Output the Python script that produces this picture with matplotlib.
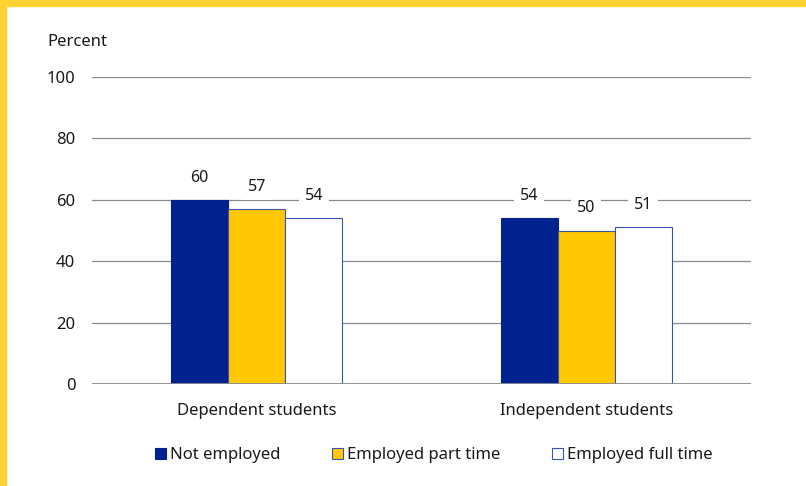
import numpy as np
import matplotlib
matplotlib.use("Agg")
import matplotlib.pyplot as plt
from matplotlib.patches import Rectangle

plt.rcParams["font.family"] = ["Noto Sans", "DejaVu Sans"]

# data
groups = ["Dependent students", "Independent students"]
series = ["Not employed", "Employed part time", "Employed full time"]
not_employed = [60, 54]
part_time = [57, 50]
full_time = [54, 51]
yticks = [0, 20, 40, 60, 80, 100]

NAVY = "#00228f"
GOLD = "#ffc800"
EDGE = "#3a52b0"
TXT = "#1a1a1a"
BORDER = "#ffd234"

fig = plt.figure(figsize=(8.06, 4.86), dpi=100)
W, H = 806, 486

# yellow frame on top and left
fig.patches.append(Rectangle((0, 1 - 6 / H), 1, 6 / H, transform=fig.transFigure,
                             color=BORDER, zorder=0))
fig.patches.append(Rectangle((0, 0), 6 / W, 1, transform=fig.transFigure,
                             color=BORDER, zorder=0))

ax = fig.add_axes([92 / W, 1 - 384 / H, (751 - 92) / W, (384 - 77) / H])

x = np.arange(len(groups))
bw = 0.173
vals = [not_employed, part_time, full_time]
faces = [NAVY, GOLD, "white"]
edges = [NAVY, EDGE, EDGE]
for i, (v, fc, ec) in enumerate(zip(vals, faces, edges)):
    pos = x + (i - 1) * bw
    ax.bar(pos, v, bw, color=fc, edgecolor=ec, linewidth=0.8, zorder=3, label=series[i])
    for p, val in zip(pos, v):
        ax.annotate(f"{val}", (p, val), xytext=(0, 16), textcoords="offset points",
                    ha="center", va="center", fontsize=11.5, color=TXT, zorder=5,
                    bbox=dict(boxstyle="square,pad=0.35", fc="white", ec="none"))

ax.set_xlim(-0.5, 1.5)
ax.set_ylim(0, 100)
ax.set_yticks(yticks)
ax.set_xticks(x)
ax.set_xticklabels(groups)
ax.grid(axis="y", color="#8c8c8c", linewidth=0.9, zorder=0)
ax.axhline(0, color="#8c8c8c", linewidth=2, zorder=4)
for s in ax.spines.values():
    s.set_visible(False)
ax.tick_params(axis="both", length=0, labelsize=12, colors=TXT)
ax.tick_params(axis="y", pad=12)
ax.tick_params(axis="x", pad=14)

fig.text(47 / W, 1 - 42 / H, "Percent", fontsize=12, color=TXT, va="center", ha="left")

leg = fig.legend(loc="center", bbox_to_anchor=(0.538, 1 - 455 / H), ncol=3, frameon=False,
                 fontsize=12, handlelength=0.65, handleheight=0.65, handletextpad=0.25,
                 columnspacing=3.1, labelcolor=TXT)

fig.savefig("out.png", dpi=100)
